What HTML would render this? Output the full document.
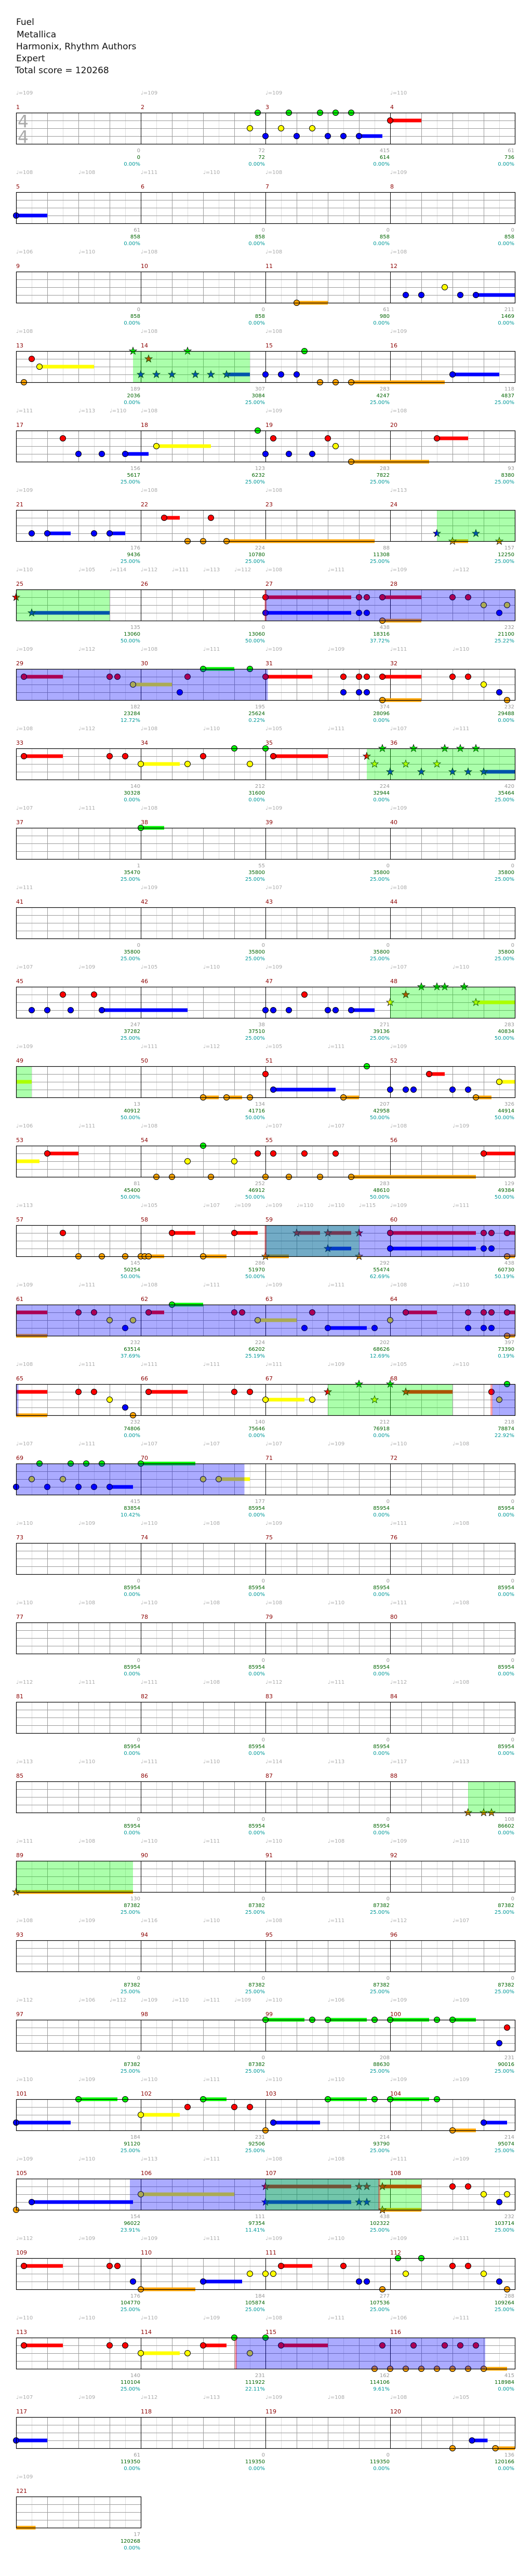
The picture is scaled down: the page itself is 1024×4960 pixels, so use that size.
<!DOCTYPE html>
<html><head><meta charset="utf-8">
<style>
html,body{margin:0;padding:0;background:#fff;}
svg{display:block;}
.h{font:17px "DejaVu Sans","Liberation Sans",sans-serif;fill:#111;}
.m{font:11px "DejaVu Sans","Liberation Sans",sans-serif;fill:#8b0000;}
.t{font:10px "DejaVu Sans","Liberation Sans",sans-serif;fill:#aaa;}
.a{font:10px "DejaVu Sans","Liberation Sans",sans-serif;fill:#999;text-anchor:end;}
.b{font:10px "DejaVu Sans","Liberation Sans",sans-serif;fill:#006400;text-anchor:end;}
.c{font:10px "DejaVu Sans","Liberation Sans",sans-serif;fill:#009999;text-anchor:end;}
.ts{font:33px "DejaVu Sans","Liberation Sans",sans-serif;fill:#aaa;}
</style></head><body>
<svg id="s" xmlns="http://www.w3.org/2000/svg" width="1024" height="4960" viewBox="0 0 1024 4960">
<rect width="1024" height="4960" fill="#fff"/>
<g id="grid"></g>
<g id="notes"></g>
<g id="ov"></g>
<text class="h" x="31" y="48">Fuel</text>
<text class="h" x="32" y="72">Metallica</text>
<text class="h" x="31" y="95">Harmonix, Rhythm Authors</text>
<text class="h" x="31" y="118">Expert</text>
<text class="h" x="29" y="141">Total score = 120268</text>
<text class="ts" x="34" y="245">4</text>
<text class="ts" x="34" y="275">4</text>

<g transform="translate(0,217)">
<text class="t" x="31" y="-35">♩=109</text><text class="t" x="271" y="-35">♩=109</text><text class="t" x="511" y="-35">♩=109</text><text class="t" x="751" y="-35">♩=110</text>
<text class="m" x="31" y="-7">1</text><text class="m" x="271" y="-7">2</text><text class="m" x="511" y="-7">3</text><text class="m" x="751" y="-7">4</text>
<text class="a" x="270" y="76">0</text><text class="b" x="270" y="89">0</text><text class="c" x="270" y="102">0.00%</text>
<text class="a" x="510" y="76">72</text><text class="b" x="510" y="89">72</text><text class="c" x="510" y="102">0.00%</text>
<text class="a" x="750" y="76">415</text><text class="b" x="750" y="89">614</text><text class="c" x="750" y="102">0.00%</text>
<text class="a" x="990" y="76">61</text><text class="b" x="990" y="89">736</text><text class="c" x="990" y="102">0.00%</text>
</g>
<g transform="translate(0,370)">
<text class="t" x="31" y="-35">♩=108</text><text class="t" x="151" y="-35">♩=108</text><text class="t" x="271" y="-35">♩=111</text><text class="t" x="391" y="-35">♩=110</text><text class="t" x="511" y="-35">♩=108</text><text class="t" x="751" y="-35">♩=109</text>
<text class="m" x="31" y="-7">5</text><text class="m" x="271" y="-7">6</text><text class="m" x="511" y="-7">7</text><text class="m" x="751" y="-7">8</text>
<text class="a" x="270" y="76">61</text><text class="b" x="270" y="89">858</text><text class="c" x="270" y="102">0.00%</text>
<text class="a" x="510" y="76">0</text><text class="b" x="510" y="89">858</text><text class="c" x="510" y="102">0.00%</text>
<text class="a" x="750" y="76">0</text><text class="b" x="750" y="89">858</text><text class="c" x="750" y="102">0.00%</text>
<text class="a" x="990" y="76">0</text><text class="b" x="990" y="89">858</text><text class="c" x="990" y="102">0.00%</text>
</g>
<g transform="translate(0,523)">
<text class="t" x="31" y="-35">♩=106</text><text class="t" x="151" y="-35">♩=110</text><text class="t" x="271" y="-35">♩=108</text><text class="t" x="511" y="-35">♩=108</text><text class="t" x="751" y="-35">♩=108</text>
<text class="m" x="31" y="-7">9</text><text class="m" x="271" y="-7">10</text><text class="m" x="511" y="-7">11</text><text class="m" x="751" y="-7">12</text>
<text class="a" x="270" y="76">0</text><text class="b" x="270" y="89">858</text><text class="c" x="270" y="102">0.00%</text>
<text class="a" x="510" y="76">0</text><text class="b" x="510" y="89">858</text><text class="c" x="510" y="102">0.00%</text>
<text class="a" x="750" y="76">61</text><text class="b" x="750" y="89">980</text><text class="c" x="750" y="102">0.00%</text>
<text class="a" x="990" y="76">211</text><text class="b" x="990" y="89">1469</text><text class="c" x="990" y="102">0.00%</text>
</g>
<g transform="translate(0,676)">
<text class="t" x="31" y="-35">♩=108</text><text class="t" x="271" y="-35">♩=108</text><text class="t" x="511" y="-35">♩=108</text><text class="t" x="751" y="-35">♩=109</text>
<text class="m" x="31" y="-7">13</text><text class="m" x="271" y="-7">14</text><text class="m" x="511" y="-7">15</text><text class="m" x="751" y="-7">16</text>
<text class="a" x="270" y="76">189</text><text class="b" x="270" y="89">2036</text><text class="c" x="270" y="102">0.00%</text>
<text class="a" x="510" y="76">307</text><text class="b" x="510" y="89">3084</text><text class="c" x="510" y="102">25.00%</text>
<text class="a" x="750" y="76">283</text><text class="b" x="750" y="89">4247</text><text class="c" x="750" y="102">25.00%</text>
<text class="a" x="990" y="76">118</text><text class="b" x="990" y="89">4837</text><text class="c" x="990" y="102">25.00%</text>
</g>
<g transform="translate(0,829)">
<text class="t" x="31" y="-35">♩=111</text><text class="t" x="151" y="-35">♩=113</text><text class="t" x="211" y="-35">♩=110</text><text class="t" x="271" y="-35">♩=108</text><text class="t" x="511" y="-35">♩=109</text><text class="t" x="751" y="-35">♩=108</text>
<text class="m" x="31" y="-7">17</text><text class="m" x="271" y="-7">18</text><text class="m" x="511" y="-7">19</text><text class="m" x="751" y="-7">20</text>
<text class="a" x="270" y="76">156</text><text class="b" x="270" y="89">5617</text><text class="c" x="270" y="102">25.00%</text>
<text class="a" x="510" y="76">123</text><text class="b" x="510" y="89">6232</text><text class="c" x="510" y="102">25.00%</text>
<text class="a" x="750" y="76">283</text><text class="b" x="750" y="89">7822</text><text class="c" x="750" y="102">25.00%</text>
<text class="a" x="990" y="76">93</text><text class="b" x="990" y="89">8380</text><text class="c" x="990" y="102">25.00%</text>
</g>
<g transform="translate(0,982)">
<text class="t" x="31" y="-35">♩=109</text><text class="t" x="271" y="-35">♩=108</text><text class="t" x="511" y="-35">♩=108</text><text class="t" x="751" y="-35">♩=113</text>
<text class="m" x="31" y="-7">21</text><text class="m" x="271" y="-7">22</text><text class="m" x="511" y="-7">23</text><text class="m" x="751" y="-7">24</text>
<text class="a" x="270" y="76">176</text><text class="b" x="270" y="89">9436</text><text class="c" x="270" y="102">25.00%</text>
<text class="a" x="510" y="76">224</text><text class="b" x="510" y="89">10780</text><text class="c" x="510" y="102">25.00%</text>
<text class="a" x="750" y="76">88</text><text class="b" x="750" y="89">11308</text><text class="c" x="750" y="102">25.00%</text>
<text class="a" x="990" y="76">157</text><text class="b" x="990" y="89">12250</text><text class="c" x="990" y="102">25.00%</text>
</g>
<g transform="translate(0,1135)">
<text class="t" x="31" y="-35">♩=110</text><text class="t" x="151" y="-35">♩=105</text><text class="t" x="211" y="-35">♩=114</text><text class="t" x="271" y="-35">♩=112</text><text class="t" x="331" y="-35">♩=111</text><text class="t" x="391" y="-35">♩=113</text><text class="t" x="451" y="-35">♩=112</text><text class="t" x="511" y="-35">♩=108</text><text class="t" x="631" y="-35">♩=111</text><text class="t" x="751" y="-35">♩=109</text><text class="t" x="871" y="-35">♩=112</text>
<text class="m" x="31" y="-7">25</text><text class="m" x="271" y="-7">26</text><text class="m" x="511" y="-7">27</text><text class="m" x="751" y="-7">28</text>
<text class="a" x="270" y="76">135</text><text class="b" x="270" y="89">13060</text><text class="c" x="270" y="102">50.00%</text>
<text class="a" x="510" y="76">0</text><text class="b" x="510" y="89">13060</text><text class="c" x="510" y="102">50.00%</text>
<text class="a" x="750" y="76">438</text><text class="b" x="750" y="89">18316</text><text class="c" x="750" y="102">37.72%</text>
<text class="a" x="990" y="76">232</text><text class="b" x="990" y="89">21100</text><text class="c" x="990" y="102">25.22%</text>
</g>
<g transform="translate(0,1288)">
<text class="t" x="31" y="-35">♩=109</text><text class="t" x="151" y="-35">♩=112</text><text class="t" x="271" y="-35">♩=108</text><text class="t" x="391" y="-35">♩=111</text><text class="t" x="511" y="-35">♩=109</text><text class="t" x="631" y="-35">♩=109</text><text class="t" x="751" y="-35">♩=111</text><text class="t" x="871" y="-35">♩=110</text>
<text class="m" x="31" y="-7">29</text><text class="m" x="271" y="-7">30</text><text class="m" x="511" y="-7">31</text><text class="m" x="751" y="-7">32</text>
<text class="a" x="270" y="76">182</text><text class="b" x="270" y="89">23284</text><text class="c" x="270" y="102">12.72%</text>
<text class="a" x="510" y="76">195</text><text class="b" x="510" y="89">25624</text><text class="c" x="510" y="102">0.22%</text>
<text class="a" x="750" y="76">374</text><text class="b" x="750" y="89">28096</text><text class="c" x="750" y="102">0.00%</text>
<text class="a" x="990" y="76">232</text><text class="b" x="990" y="89">29488</text><text class="c" x="990" y="102">0.00%</text>
</g>
<g transform="translate(0,1441)">
<text class="t" x="31" y="-35">♩=108</text><text class="t" x="151" y="-35">♩=112</text><text class="t" x="271" y="-35">♩=108</text><text class="t" x="391" y="-35">♩=110</text><text class="t" x="511" y="-35">♩=105</text><text class="t" x="631" y="-35">♩=111</text><text class="t" x="751" y="-35">♩=107</text><text class="t" x="871" y="-35">♩=111</text>
<text class="m" x="31" y="-7">33</text><text class="m" x="271" y="-7">34</text><text class="m" x="511" y="-7">35</text><text class="m" x="751" y="-7">36</text>
<text class="a" x="270" y="76">140</text><text class="b" x="270" y="89">30328</text><text class="c" x="270" y="102">0.00%</text>
<text class="a" x="510" y="76">212</text><text class="b" x="510" y="89">31600</text><text class="c" x="510" y="102">0.00%</text>
<text class="a" x="750" y="76">224</text><text class="b" x="750" y="89">32944</text><text class="c" x="750" y="102">0.00%</text>
<text class="a" x="990" y="76">420</text><text class="b" x="990" y="89">35464</text><text class="c" x="990" y="102">25.00%</text>
</g>
<g transform="translate(0,1594)">
<text class="t" x="31" y="-35">♩=107</text><text class="t" x="151" y="-35">♩=111</text><text class="t" x="271" y="-35">♩=108</text><text class="t" x="511" y="-35">♩=109</text><text class="t" x="751" y="-35">♩=109</text>
<text class="m" x="31" y="-7">37</text><text class="m" x="271" y="-7">38</text><text class="m" x="511" y="-7">39</text><text class="m" x="751" y="-7">40</text>
<text class="a" x="270" y="76">1</text><text class="b" x="270" y="89">35470</text><text class="c" x="270" y="102">25.00%</text>
<text class="a" x="510" y="76">55</text><text class="b" x="510" y="89">35800</text><text class="c" x="510" y="102">25.00%</text>
<text class="a" x="750" y="76">0</text><text class="b" x="750" y="89">35800</text><text class="c" x="750" y="102">25.00%</text>
<text class="a" x="990" y="76">0</text><text class="b" x="990" y="89">35800</text><text class="c" x="990" y="102">25.00%</text>
</g>
<g transform="translate(0,1747)">
<text class="t" x="31" y="-35">♩=111</text><text class="t" x="271" y="-35">♩=109</text><text class="t" x="511" y="-35">♩=107</text><text class="t" x="751" y="-35">♩=108</text>
<text class="m" x="31" y="-7">41</text><text class="m" x="271" y="-7">42</text><text class="m" x="511" y="-7">43</text><text class="m" x="751" y="-7">44</text>
<text class="a" x="270" y="76">0</text><text class="b" x="270" y="89">35800</text><text class="c" x="270" y="102">25.00%</text>
<text class="a" x="510" y="76">0</text><text class="b" x="510" y="89">35800</text><text class="c" x="510" y="102">25.00%</text>
<text class="a" x="750" y="76">0</text><text class="b" x="750" y="89">35800</text><text class="c" x="750" y="102">25.00%</text>
<text class="a" x="990" y="76">0</text><text class="b" x="990" y="89">35800</text><text class="c" x="990" y="102">25.00%</text>
</g>
<g transform="translate(0,1900)">
<text class="t" x="31" y="-35">♩=107</text><text class="t" x="151" y="-35">♩=109</text><text class="t" x="271" y="-35">♩=105</text><text class="t" x="391" y="-35">♩=110</text><text class="t" x="511" y="-35">♩=109</text><text class="t" x="751" y="-35">♩=107</text><text class="t" x="871" y="-35">♩=110</text>
<text class="m" x="31" y="-7">45</text><text class="m" x="271" y="-7">46</text><text class="m" x="511" y="-7">47</text><text class="m" x="751" y="-7">48</text>
<text class="a" x="270" y="76">247</text><text class="b" x="270" y="89">37282</text><text class="c" x="270" y="102">25.00%</text>
<text class="a" x="510" y="76">38</text><text class="b" x="510" y="89">37510</text><text class="c" x="510" y="102">25.00%</text>
<text class="a" x="750" y="76">271</text><text class="b" x="750" y="89">39136</text><text class="c" x="750" y="102">25.00%</text>
<text class="a" x="990" y="76">283</text><text class="b" x="990" y="89">40834</text><text class="c" x="990" y="102">50.00%</text>
</g>
<g transform="translate(0,2053)">
<text class="t" x="31" y="-35">♩=109</text><text class="t" x="271" y="-35">♩=111</text><text class="t" x="391" y="-35">♩=112</text><text class="t" x="511" y="-35">♩=105</text><text class="t" x="631" y="-35">♩=111</text><text class="t" x="751" y="-35">♩=109</text>
<text class="m" x="31" y="-7">49</text><text class="m" x="271" y="-7">50</text><text class="m" x="511" y="-7">51</text><text class="m" x="751" y="-7">52</text>
<text class="a" x="270" y="76">13</text><text class="b" x="270" y="89">40912</text><text class="c" x="270" y="102">50.00%</text>
<text class="a" x="510" y="76">134</text><text class="b" x="510" y="89">41716</text><text class="c" x="510" y="102">50.00%</text>
<text class="a" x="750" y="76">207</text><text class="b" x="750" y="89">42958</text><text class="c" x="750" y="102">50.00%</text>
<text class="a" x="990" y="76">326</text><text class="b" x="990" y="89">44914</text><text class="c" x="990" y="102">50.00%</text>
</g>
<g transform="translate(0,2206)">
<text class="t" x="31" y="-35">♩=106</text><text class="t" x="151" y="-35">♩=111</text><text class="t" x="271" y="-35">♩=108</text><text class="t" x="511" y="-35">♩=107</text><text class="t" x="631" y="-35">♩=107</text><text class="t" x="751" y="-35">♩=108</text><text class="t" x="871" y="-35">♩=109</text>
<text class="m" x="31" y="-7">53</text><text class="m" x="271" y="-7">54</text><text class="m" x="511" y="-7">55</text><text class="m" x="751" y="-7">56</text>
<text class="a" x="270" y="76">81</text><text class="b" x="270" y="89">45400</text><text class="c" x="270" y="102">50.00%</text>
<text class="a" x="510" y="76">252</text><text class="b" x="510" y="89">46912</text><text class="c" x="510" y="102">50.00%</text>
<text class="a" x="750" y="76">283</text><text class="b" x="750" y="89">48610</text><text class="c" x="750" y="102">50.00%</text>
<text class="a" x="990" y="76">129</text><text class="b" x="990" y="89">49384</text><text class="c" x="990" y="102">50.00%</text>
</g>
<g transform="translate(0,2359)">
<text class="t" x="31" y="-35">♩=113</text><text class="t" x="271" y="-35">♩=105</text><text class="t" x="391" y="-35">♩=107</text><text class="t" x="451" y="-35">♩=109</text><text class="t" x="511" y="-35">♩=109</text><text class="t" x="571" y="-35">♩=110</text><text class="t" x="631" y="-35">♩=110</text><text class="t" x="691" y="-35">♩=115</text><text class="t" x="751" y="-35">♩=109</text><text class="t" x="871" y="-35">♩=111</text>
<text class="m" x="31" y="-7">57</text><text class="m" x="271" y="-7">58</text><text class="m" x="511" y="-7">59</text><text class="m" x="751" y="-7">60</text>
<text class="a" x="270" y="76">145</text><text class="b" x="270" y="89">50254</text><text class="c" x="270" y="102">50.00%</text>
<text class="a" x="510" y="76">286</text><text class="b" x="510" y="89">51970</text><text class="c" x="510" y="102">50.00%</text>
<text class="a" x="750" y="76">292</text><text class="b" x="750" y="89">55474</text><text class="c" x="750" y="102">62.69%</text>
<text class="a" x="990" y="76">438</text><text class="b" x="990" y="89">60730</text><text class="c" x="990" y="102">50.19%</text>
</g>
<g transform="translate(0,2512)">
<text class="t" x="31" y="-35">♩=109</text><text class="t" x="151" y="-35">♩=111</text><text class="t" x="271" y="-35">♩=108</text><text class="t" x="391" y="-35">♩=111</text><text class="t" x="511" y="-35">♩=109</text><text class="t" x="631" y="-35">♩=111</text><text class="t" x="751" y="-35">♩=108</text><text class="t" x="871" y="-35">♩=110</text>
<text class="m" x="31" y="-7">61</text><text class="m" x="271" y="-7">62</text><text class="m" x="511" y="-7">63</text><text class="m" x="751" y="-7">64</text>
<text class="a" x="270" y="76">232</text><text class="b" x="270" y="89">63514</text><text class="c" x="270" y="102">37.69%</text>
<text class="a" x="510" y="76">224</text><text class="b" x="510" y="89">66202</text><text class="c" x="510" y="102">25.19%</text>
<text class="a" x="750" y="76">202</text><text class="b" x="750" y="89">68626</text><text class="c" x="750" y="102">12.69%</text>
<text class="a" x="990" y="76">397</text><text class="b" x="990" y="89">73390</text><text class="c" x="990" y="102">0.19%</text>
</g>
<g transform="translate(0,2665)">
<text class="t" x="31" y="-35">♩=108</text><text class="t" x="151" y="-35">♩=111</text><text class="t" x="271" y="-35">♩=111</text><text class="t" x="391" y="-35">♩=111</text><text class="t" x="511" y="-35">♩=111</text><text class="t" x="631" y="-35">♩=109</text><text class="t" x="751" y="-35">♩=105</text><text class="t" x="871" y="-35">♩=110</text>
<text class="m" x="31" y="-7">65</text><text class="m" x="271" y="-7">66</text><text class="m" x="511" y="-7">67</text><text class="m" x="751" y="-7">68</text>
<text class="a" x="270" y="76">232</text><text class="b" x="270" y="89">74806</text><text class="c" x="270" y="102">0.00%</text>
<text class="a" x="510" y="76">140</text><text class="b" x="510" y="89">75646</text><text class="c" x="510" y="102">0.00%</text>
<text class="a" x="750" y="76">212</text><text class="b" x="750" y="89">76918</text><text class="c" x="750" y="102">0.00%</text>
<text class="a" x="990" y="76">218</text><text class="b" x="990" y="89">78874</text><text class="c" x="990" y="102">22.92%</text>
</g>
<g transform="translate(0,2818)">
<text class="t" x="31" y="-35">♩=107</text><text class="t" x="151" y="-35">♩=111</text><text class="t" x="271" y="-35">♩=107</text><text class="t" x="391" y="-35">♩=107</text><text class="t" x="511" y="-35">♩=107</text><text class="t" x="631" y="-35">♩=109</text><text class="t" x="751" y="-35">♩=110</text><text class="t" x="871" y="-35">♩=108</text>
<text class="m" x="31" y="-7">69</text><text class="m" x="271" y="-7">70</text><text class="m" x="511" y="-7">71</text><text class="m" x="751" y="-7">72</text>
<text class="a" x="270" y="76">415</text><text class="b" x="270" y="89">83854</text><text class="c" x="270" y="102">10.42%</text>
<text class="a" x="510" y="76">177</text><text class="b" x="510" y="89">85954</text><text class="c" x="510" y="102">0.00%</text>
<text class="a" x="750" y="76">0</text><text class="b" x="750" y="89">85954</text><text class="c" x="750" y="102">0.00%</text>
<text class="a" x="990" y="76">0</text><text class="b" x="990" y="89">85954</text><text class="c" x="990" y="102">0.00%</text>
</g>
<g transform="translate(0,2971)">
<text class="t" x="31" y="-35">♩=110</text><text class="t" x="151" y="-35">♩=109</text><text class="t" x="271" y="-35">♩=110</text><text class="t" x="391" y="-35">♩=108</text><text class="t" x="511" y="-35">♩=109</text><text class="t" x="751" y="-35">♩=111</text><text class="t" x="871" y="-35">♩=108</text>
<text class="m" x="31" y="-7">73</text><text class="m" x="271" y="-7">74</text><text class="m" x="511" y="-7">75</text><text class="m" x="751" y="-7">76</text>
<text class="a" x="270" y="76">0</text><text class="b" x="270" y="89">85954</text><text class="c" x="270" y="102">0.00%</text>
<text class="a" x="510" y="76">0</text><text class="b" x="510" y="89">85954</text><text class="c" x="510" y="102">0.00%</text>
<text class="a" x="750" y="76">0</text><text class="b" x="750" y="89">85954</text><text class="c" x="750" y="102">0.00%</text>
<text class="a" x="990" y="76">0</text><text class="b" x="990" y="89">85954</text><text class="c" x="990" y="102">0.00%</text>
</g>
<g transform="translate(0,3124)">
<text class="t" x="31" y="-35">♩=110</text><text class="t" x="151" y="-35">♩=108</text><text class="t" x="271" y="-35">♩=110</text><text class="t" x="391" y="-35">♩=108</text><text class="t" x="511" y="-35">♩=108</text><text class="t" x="631" y="-35">♩=110</text><text class="t" x="751" y="-35">♩=111</text><text class="t" x="871" y="-35">♩=108</text>
<text class="m" x="31" y="-7">77</text><text class="m" x="271" y="-7">78</text><text class="m" x="511" y="-7">79</text><text class="m" x="751" y="-7">80</text>
<text class="a" x="270" y="76">0</text><text class="b" x="270" y="89">85954</text><text class="c" x="270" y="102">0.00%</text>
<text class="a" x="510" y="76">0</text><text class="b" x="510" y="89">85954</text><text class="c" x="510" y="102">0.00%</text>
<text class="a" x="750" y="76">0</text><text class="b" x="750" y="89">85954</text><text class="c" x="750" y="102">0.00%</text>
<text class="a" x="990" y="76">0</text><text class="b" x="990" y="89">85954</text><text class="c" x="990" y="102">0.00%</text>
</g>
<g transform="translate(0,3277)">
<text class="t" x="31" y="-35">♩=112</text><text class="t" x="151" y="-35">♩=111</text><text class="t" x="271" y="-35">♩=111</text><text class="t" x="391" y="-35">♩=108</text><text class="t" x="511" y="-35">♩=112</text><text class="t" x="631" y="-35">♩=111</text><text class="t" x="751" y="-35">♩=112</text><text class="t" x="871" y="-35">♩=108</text>
<text class="m" x="31" y="-7">81</text><text class="m" x="271" y="-7">82</text><text class="m" x="511" y="-7">83</text><text class="m" x="751" y="-7">84</text>
<text class="a" x="270" y="76">0</text><text class="b" x="270" y="89">85954</text><text class="c" x="270" y="102">0.00%</text>
<text class="a" x="510" y="76">0</text><text class="b" x="510" y="89">85954</text><text class="c" x="510" y="102">0.00%</text>
<text class="a" x="750" y="76">0</text><text class="b" x="750" y="89">85954</text><text class="c" x="750" y="102">0.00%</text>
<text class="a" x="990" y="76">0</text><text class="b" x="990" y="89">85954</text><text class="c" x="990" y="102">0.00%</text>
</g>
<g transform="translate(0,3430)">
<text class="t" x="31" y="-35">♩=113</text><text class="t" x="151" y="-35">♩=110</text><text class="t" x="271" y="-35">♩=111</text><text class="t" x="391" y="-35">♩=110</text><text class="t" x="511" y="-35">♩=114</text><text class="t" x="631" y="-35">♩=113</text><text class="t" x="751" y="-35">♩=117</text><text class="t" x="871" y="-35">♩=113</text>
<text class="m" x="31" y="-7">85</text><text class="m" x="271" y="-7">86</text><text class="m" x="511" y="-7">87</text><text class="m" x="751" y="-7">88</text>
<text class="a" x="270" y="76">0</text><text class="b" x="270" y="89">85954</text><text class="c" x="270" y="102">0.00%</text>
<text class="a" x="510" y="76">0</text><text class="b" x="510" y="89">85954</text><text class="c" x="510" y="102">0.00%</text>
<text class="a" x="750" y="76">0</text><text class="b" x="750" y="89">85954</text><text class="c" x="750" y="102">0.00%</text>
<text class="a" x="990" y="76">108</text><text class="b" x="990" y="89">86602</text><text class="c" x="990" y="102">0.00%</text>
</g>
<g transform="translate(0,3583)">
<text class="t" x="31" y="-35">♩=111</text><text class="t" x="151" y="-35">♩=108</text><text class="t" x="271" y="-35">♩=110</text><text class="t" x="391" y="-35">♩=111</text><text class="t" x="511" y="-35">♩=110</text><text class="t" x="631" y="-35">♩=108</text><text class="t" x="751" y="-35">♩=109</text><text class="t" x="871" y="-35">♩=110</text>
<text class="m" x="31" y="-7">89</text><text class="m" x="271" y="-7">90</text><text class="m" x="511" y="-7">91</text><text class="m" x="751" y="-7">92</text>
<text class="a" x="270" y="76">130</text><text class="b" x="270" y="89">87382</text><text class="c" x="270" y="102">25.00%</text>
<text class="a" x="510" y="76">0</text><text class="b" x="510" y="89">87382</text><text class="c" x="510" y="102">25.00%</text>
<text class="a" x="750" y="76">0</text><text class="b" x="750" y="89">87382</text><text class="c" x="750" y="102">25.00%</text>
<text class="a" x="990" y="76">0</text><text class="b" x="990" y="89">87382</text><text class="c" x="990" y="102">25.00%</text>
</g>
<g transform="translate(0,3736)">
<text class="t" x="31" y="-35">♩=108</text><text class="t" x="151" y="-35">♩=109</text><text class="t" x="271" y="-35">♩=116</text><text class="t" x="391" y="-35">♩=110</text><text class="t" x="511" y="-35">♩=108</text><text class="t" x="631" y="-35">♩=111</text><text class="t" x="751" y="-35">♩=112</text><text class="t" x="871" y="-35">♩=107</text>
<text class="m" x="31" y="-7">93</text><text class="m" x="271" y="-7">94</text><text class="m" x="511" y="-7">95</text><text class="m" x="751" y="-7">96</text>
<text class="a" x="270" y="76">0</text><text class="b" x="270" y="89">87382</text><text class="c" x="270" y="102">25.00%</text>
<text class="a" x="510" y="76">0</text><text class="b" x="510" y="89">87382</text><text class="c" x="510" y="102">25.00%</text>
<text class="a" x="750" y="76">0</text><text class="b" x="750" y="89">87382</text><text class="c" x="750" y="102">25.00%</text>
<text class="a" x="990" y="76">0</text><text class="b" x="990" y="89">87382</text><text class="c" x="990" y="102">25.00%</text>
</g>
<g transform="translate(0,3889)">
<text class="t" x="31" y="-35">♩=112</text><text class="t" x="151" y="-35">♩=106</text><text class="t" x="211" y="-35">♩=112</text><text class="t" x="271" y="-35">♩=109</text><text class="t" x="331" y="-35">♩=110</text><text class="t" x="391" y="-35">♩=111</text><text class="t" x="451" y="-35">♩=109</text><text class="t" x="511" y="-35">♩=110</text><text class="t" x="631" y="-35">♩=106</text><text class="t" x="751" y="-35">♩=109</text><text class="t" x="871" y="-35">♩=109</text>
<text class="m" x="31" y="-7">97</text><text class="m" x="271" y="-7">98</text><text class="m" x="511" y="-7">99</text><text class="m" x="751" y="-7">100</text>
<text class="a" x="270" y="76">0</text><text class="b" x="270" y="89">87382</text><text class="c" x="270" y="102">25.00%</text>
<text class="a" x="510" y="76">0</text><text class="b" x="510" y="89">87382</text><text class="c" x="510" y="102">25.00%</text>
<text class="a" x="750" y="76">208</text><text class="b" x="750" y="89">88630</text><text class="c" x="750" y="102">25.00%</text>
<text class="a" x="990" y="76">231</text><text class="b" x="990" y="89">90016</text><text class="c" x="990" y="102">25.00%</text>
</g>
<g transform="translate(0,4042)">
<text class="t" x="31" y="-35">♩=110</text><text class="t" x="151" y="-35">♩=109</text><text class="t" x="271" y="-35">♩=110</text><text class="t" x="391" y="-35">♩=111</text><text class="t" x="511" y="-35">♩=110</text><text class="t" x="631" y="-35">♩=110</text><text class="t" x="751" y="-35">♩=109</text><text class="t" x="871" y="-35">♩=109</text>
<text class="m" x="31" y="-7">101</text><text class="m" x="271" y="-7">102</text><text class="m" x="511" y="-7">103</text><text class="m" x="751" y="-7">104</text>
<text class="a" x="270" y="76">184</text><text class="b" x="270" y="89">91120</text><text class="c" x="270" y="102">25.00%</text>
<text class="a" x="510" y="76">231</text><text class="b" x="510" y="89">92506</text><text class="c" x="510" y="102">25.00%</text>
<text class="a" x="750" y="76">214</text><text class="b" x="750" y="89">93790</text><text class="c" x="750" y="102">25.00%</text>
<text class="a" x="990" y="76">214</text><text class="b" x="990" y="89">95074</text><text class="c" x="990" y="102">25.00%</text>
</g>
<g transform="translate(0,4195)">
<text class="t" x="31" y="-35">♩=109</text><text class="t" x="151" y="-35">♩=110</text><text class="t" x="271" y="-35">♩=113</text><text class="t" x="391" y="-35">♩=111</text><text class="t" x="511" y="-35">♩=108</text><text class="t" x="631" y="-35">♩=108</text><text class="t" x="751" y="-35">♩=111</text><text class="t" x="871" y="-35">♩=109</text>
<text class="m" x="31" y="-7">105</text><text class="m" x="271" y="-7">106</text><text class="m" x="511" y="-7">107</text><text class="m" x="751" y="-7">108</text>
<text class="a" x="270" y="76">154</text><text class="b" x="270" y="89">96022</text><text class="c" x="270" y="102">23.91%</text>
<text class="a" x="510" y="76">111</text><text class="b" x="510" y="89">97354</text><text class="c" x="510" y="102">11.41%</text>
<text class="a" x="750" y="76">438</text><text class="b" x="750" y="89">102322</text><text class="c" x="750" y="102">25.00%</text>
<text class="a" x="990" y="76">232</text><text class="b" x="990" y="89">103714</text><text class="c" x="990" y="102">25.00%</text>
</g>
<g transform="translate(0,4348)">
<text class="t" x="31" y="-35">♩=112</text><text class="t" x="151" y="-35">♩=109</text><text class="t" x="271" y="-35">♩=109</text><text class="t" x="391" y="-35">♩=111</text><text class="t" x="511" y="-35">♩=109</text><text class="t" x="631" y="-35">♩=110</text><text class="t" x="751" y="-35">♩=109</text><text class="t" x="871" y="-35">♩=111</text>
<text class="m" x="31" y="-7">109</text><text class="m" x="271" y="-7">110</text><text class="m" x="511" y="-7">111</text><text class="m" x="751" y="-7">112</text>
<text class="a" x="270" y="76">176</text><text class="b" x="270" y="89">104770</text><text class="c" x="270" y="102">25.00%</text>
<text class="a" x="510" y="76">184</text><text class="b" x="510" y="89">105874</text><text class="c" x="510" y="102">25.00%</text>
<text class="a" x="750" y="76">277</text><text class="b" x="750" y="89">107536</text><text class="c" x="750" y="102">25.00%</text>
<text class="a" x="990" y="76">288</text><text class="b" x="990" y="89">109264</text><text class="c" x="990" y="102">25.00%</text>
</g>
<g transform="translate(0,4501)">
<text class="t" x="31" y="-35">♩=110</text><text class="t" x="151" y="-35">♩=110</text><text class="t" x="271" y="-35">♩=110</text><text class="t" x="391" y="-35">♩=109</text><text class="t" x="511" y="-35">♩=108</text><text class="t" x="631" y="-35">♩=111</text><text class="t" x="751" y="-35">♩=106</text><text class="t" x="871" y="-35">♩=111</text>
<text class="m" x="31" y="-7">113</text><text class="m" x="271" y="-7">114</text><text class="m" x="511" y="-7">115</text><text class="m" x="751" y="-7">116</text>
<text class="a" x="270" y="76">140</text><text class="b" x="270" y="89">110104</text><text class="c" x="270" y="102">25.00%</text>
<text class="a" x="510" y="76">231</text><text class="b" x="510" y="89">111922</text><text class="c" x="510" y="102">22.11%</text>
<text class="a" x="750" y="76">162</text><text class="b" x="750" y="89">114106</text><text class="c" x="750" y="102">9.61%</text>
<text class="a" x="990" y="76">415</text><text class="b" x="990" y="89">118984</text><text class="c" x="990" y="102">0.00%</text>
</g>
<g transform="translate(0,4654)">
<text class="t" x="31" y="-35">♩=107</text><text class="t" x="151" y="-35">♩=109</text><text class="t" x="271" y="-35">♩=112</text><text class="t" x="391" y="-35">♩=113</text><text class="t" x="511" y="-35">♩=109</text><text class="t" x="631" y="-35">♩=108</text><text class="t" x="751" y="-35">♩=108</text><text class="t" x="871" y="-35">♩=105</text>
<text class="m" x="31" y="-7">117</text><text class="m" x="271" y="-7">118</text><text class="m" x="511" y="-7">119</text><text class="m" x="751" y="-7">120</text>
<text class="a" x="270" y="76">61</text><text class="b" x="270" y="89">119350</text><text class="c" x="270" y="102">0.00%</text>
<text class="a" x="510" y="76">0</text><text class="b" x="510" y="89">119350</text><text class="c" x="510" y="102">0.00%</text>
<text class="a" x="750" y="76">0</text><text class="b" x="750" y="89">119350</text><text class="c" x="750" y="102">0.00%</text>
<text class="a" x="990" y="76">136</text><text class="b" x="990" y="89">120166</text><text class="c" x="990" y="102">0.00%</text>
</g>
<g transform="translate(0,4807)">
<text class="t" x="31" y="-35">♩=109</text>
<text class="m" x="31" y="-7">121</text>
<text class="a" x="270" y="76">17</text><text class="b" x="270" y="89">120268</text><text class="c" x="270" y="102">0.00%</text>
</g>
</svg>
<script>
(function(){
var NS="http://www.w3.org/2000/svg";
function el(p,n,a){var e=document.createElementNS(NS,n);for(var k in a)e.setAttribute(k,a[k]);p.appendChild(e);return e;}
var grid=document.getElementById('grid'),notes=document.getElementById('notes'),ov=document.getElementById('ov');
function T(r){return 217+153*r;}
var NR=31;
for(var r=0;r<NR;r++){
  var t=T(r),nm=(r==30)?1:4,W=240*nm,x0=31;
  for(var i=1;i<nm*8;i++){
    var x=x0+30*i+0.5;
    var col=(i%8==0)?'#000':(i%2==0?'#999':'#ddd');
    if(i%8==0) continue;
    el(grid,'line',{x1:x,y1:t,x2:x,y2:t+60,stroke:col,'stroke-width':1});
  }
  for(var j=1;j<4;j++){el(grid,'line',{x1:x0,y1:t+15*j+0.5,x2:x0+W,y2:t+15*j+0.5,stroke:'#999','stroke-width':1});}
  for(var k=1;k<nm;k++){var xm=x0+240*k+0.5;el(grid,'line',{x1:xm,y1:t,x2:xm,y2:t+60,stroke:'#000','stroke-width':1});}
}
var COL=['#00ff00','#ff0000','#ffff00','#0000ff','#ffa500'];
var LANE={g:0,r:1,y:2,b:3,o:4};
function pos(abs){var r=Math.floor(abs/32+1e-9);return {r:r,x:31+(abs-32*r)*30,t:T(r)};}
function span(a,b,cb){while(b-a>1e-6){var r=Math.floor(a/32+1e-9);var end=Math.min(b,(r+1)*32);var p=pos(a);cb(p.x,(end-a)*30,p.t,r);a=end;}}
var D="2:7.5g 7y|3:1.5g 3.5g 4.5g 5.5g 1y 3y 0b 2b 4b 5b 6b1.5|4:0r2|5:0b2|11:2o2|12:3.5y 1b 2b 4.5b 5.5b2.5|13:1r 1.5y3.5 0.5o 7.5G|14:3G 0.5R 0B 1B 2B 3.5B 4.5B 5.5B1.5|15:2.5g 0b 1b 2b 3.5o 4.5o 5.5o6|16:4b3|17:3r 4b 5.5b 7b1.5|18:1y3.5 7.5g|19:0.5r 4r 4.5y 0b 1.5b 3b 5.5o5|20:3r2|21:1b 2b1.5 5b 6b1|22:1.5r1 4.5r 3o 4o 5.5o9.5|24:3B 5.5B 4O1 7O|25:0R 1B5|27:0r5.5 0b5.5 6r 6.5r 7.5r2.5 6b 6.5b 7.5o2.5|28:4r 5r 6y 7.5y 7b|29:0.5r2.5 6r 6.5r 7.5y2.5|30:3r 2.5b 4g2 7g|31:0r3 5r 6r 6.5r 7.5r2.5 5b 6b 6.5b 7.5o2.5|32:4r 5r 6y 7b 7.5o|33:0.5r2.5 6r 7r|34:0y2.5 3y 4r 6g 7y|35:0g 0.5r3.5 6.5R 7Y 7.5G|36:1.5G 3.5G 4.5G 5.5G 1Y 3Y 0B 2B 4B 5B 6B2|38:0g1.5|45:3r 5r 1b 2b 3.5b 5.5b5.5|47:2.5r 0b 0.5b 1.5b 4b 4.5b 5.5b1.5|48:0Y 1R 2G 3G 3.5G 4.75G 5.5Y3.5|50:4o1 5.5o1 7o|51:0r 0.5b4 5o1 6.5g|52:2.5r1 7y2.5 0b 1b 1.5b 4b 5b 5.5o1|53:2r2|54:1o 2o 4.5o 3y 6y 4g 7.5r|55:0.5r 2.5r 4.5r 0o 1.5o 3.5o 5.5o8|56:6r2|57:3r 4o 5.5o 7o|58:0o 0.25o 0.5o1 2r1.5 6r1.5 4o1.5|59:0O1.5 2R1.5 4R1.5 6R 4B1.5 6O|60:0r5.5 0b5.5 6r 6.5r 7.5r2.5 6b 6.5b 7.5o2.5|61:4r 5r 6y 7.5y 7b|62:0.5r1 2g2 6r 6.5r 7.5y2.5|63:3r 2.5b 4b2.5 7b|64:0y 1r2 5r 6r 6.5r 7.5r2.5 5b 6b 6.5b 7.5o2.5|65:4r 5r 6y 7b 7.5o|66:0.5r2.5 6r 7r|67:0y2.5 3y 4R 6G 7Y|68:0G 1R3 6.5r 7.5g 7y|69:1.5g 3.5g 4.5g 5.5g 1y 3y 0b 2b 4b 5b 6b1.5|70:0g3.5 4y 5y2|88:5O 6O 6.5O|89:0O7.5|99:0g2.5 3g 4g2.5 7g|100:0g2.5 3g 4g1.5 7.5r 7b|101:0b3.5 4g2.5 7g|102:0y2.5 3r 6r 7r 4g1.5|103:0o 0.5b3 4g2.5 7g|104:0g2.5 3g 4o1.5 6b1.5|105:0o 1b6.5|106:0y6|107:0R5.5 6R 6.5R 0B5.5 6B 6.5B 7.5R2.5 7.5O2.5|108:4r 5r 6y 7.5y 7b|109:0.5r2.5 6r 6.5r 7.5b|110:0o3.5 4b2.5 7y|111:0y 0.5y 1r2 5r 6b 6.5b 7.5o|112:0.5g 2g 1y 6y 4r 5r 7b 7.5o|113:0.5r2.5 6r 7r|114:0y2.5 3y 4r1.5 6g 7y|115:0g 1r3 7.5r 7o|116:1.5r 3.5r 4.5r 5.5r 0o 1o 2o 3o 4o 5o 6o1.5|117:0b2|120:4o 5.25b1 6.75o2.5";
var heads=[];
D.split('|').forEach(function(s){
  var parts=s.split(':'),m=parseInt(parts[0]);
  parts[1].trim().split(/\s+/).forEach(function(tok){
    var mm=tok.match(/^([\d.]+)([a-zA-Z])([\d.]*)$/);if(!mm)return;
    var p=parseFloat(mm[1]),c=mm[2],star=(c!=c.toLowerCase()),lane=LANE[c.toLowerCase()];
    var abs=(m-1)*8+p,len=mm[3]?parseFloat(mm[3]):0;
    if(len>0){span(abs,abs+len,function(x,w,t){el(notes,'rect',{x:x,y:t+15*lane-3.5,width:w,height:7,fill:COL[lane]});});}
    heads.push([abs,lane,star]);
  });
});
heads.forEach(function(h){
  var p=pos(h[0]),cx=p.x,cy=p.t+15*h[1];
  if(h[2]){
    var pts=[];for(var i=0;i<10;i++){var a=-Math.PI/2+i*Math.PI/5,rr=(i%2==0)?7.5:3;pts.push((cx+rr*Math.cos(a)).toFixed(1)+','+(cy+rr*Math.sin(a)).toFixed(1));}
    el(notes,'polygon',{points:pts.join(' '),fill:COL[h[1]],stroke:'#000','stroke-width':0.8});
  } else {
    el(notes,'circle',{cx:cx,cy:cy,r:5.5,fill:COL[h[1]],stroke:'#000','stroke-width':1});
  }
});
var OV=[['g',103.5,111],['g',187,198],['b',208,240.15],['g',278.5,288],['g',376,385],['g',464,470],['b',464,512.15],['g',532,540],['b',542.55,558.65],['g',701,711.5],['b',839.3,855.3],['g',848,858],['b',910.1,926.1]];
OV.forEach(function(o){
  span(o[1],o[2],function(x,w,t){el(ov,'rect',{x:x,y:t,width:w,height:60,fill:o[0]=='g'?'#00ff00':'#0000ff','fill-opacity':0.33});});
});
[208,464,542.5,855.3,910.1].forEach(function(a){var p=pos(a);el(ov,'rect',{x:p.x-2,y:p.t,width:4,height:60,fill:'#ff0000','fill-opacity':0.35});});
for(var r=0;r<NR;r++){var t=T(r),nm=(r==30)?1:4;el(ov,'rect',{x:31.5,y:t+0.5,width:240*nm,height:60,fill:'none',stroke:'#000','stroke-width':1.2});}
})();
</script>
</body></html>
